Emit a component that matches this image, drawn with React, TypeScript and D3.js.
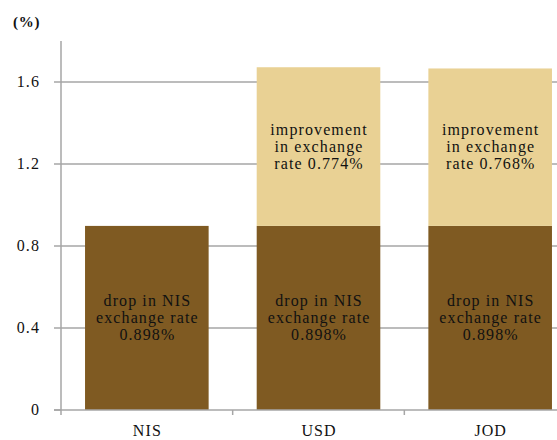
import React from "react";
import * as d3 from "d3";

const categories = ["NIS", "USD", "JOD"];
const dropValues = [0.898, 0.898, 0.898];
const improvementValues = [0, 0.774, 0.768];
const yTicks = [0, 0.4, 0.8, 1.2, 1.6];
const dropLabels = [
  ["drop in NIS", "exchange rate", "0.898%"],
  ["drop in NIS", "exchange rate", "0.898%"],
  ["drop in NIS", "exchange rate", "0.898%"],
];
const improvementLabels = [
  [],
  ["improvement", "in exchange", "rate 0.774%"],
  ["improvement", "in exchange", "rate 0.768%"],
];

const W = 557;
const H = 440;
const left = 61;
const plotRight = 576;
const y0 = 410;

export default function App() {
  const x = d3.scaleBand<string>().domain(categories).range([left, plotRight]).paddingInner(0.28).paddingOuter(0.14);
  const step = x.step();
  const y = d3.scaleLinear().domain([0, 1.8]).range([y0, 41]);
  const font = "'Liberation Serif', 'Times New Roman', serif";
  const gridColor = "#a6a6a6";
  const dark = "#7f5a22";
  const light = "#e9d194";
  const boundaries = categories.map((_, i) => left + step * i);
  const fs = 16;
  const ls = 1.1;
  return (
    <svg width={W} height={H} style={{ position: "absolute", left: 0, top: 0 }} fontFamily={font}>
      <rect width={W} height={H} fill="#fff" />
      {yTicks.filter((t) => t > 0).map((t) => (
        <line key={t} x1={left} x2={W} y1={y(t)} y2={y(t)} stroke={gridColor} strokeWidth={1.5} />
      ))}
      {categories.map((c, i) => {
        const bx = x(c)!;
        const bw = x.bandwidth();
        const d = dropValues[i];
        const im = improvementValues[i];
        const cx = bx + bw / 2;
        const dTop = y(d);
        const dMid = (dTop + y(0)) / 2;
        const iTop = y(d + im);
        const iMid = (iTop + dTop) / 2;
        return (
          <g key={c}>
            <rect x={bx} y={dTop} width={bw} height={y(0) - dTop} fill={dark} />
            {im > 0 && <rect x={bx} y={iTop} width={bw} height={dTop - iTop} fill={light} />}
            <text textAnchor="middle" fontSize={fs} letterSpacing={ls} fill="#111">
              {dropLabels[i].map((l, k) => (
                <tspan key={k} x={cx + ls / 2} y={dMid + (k - 1) * 17 + 5}>{l}</tspan>
              ))}
            </text>
            {im > 0 && (
              <text textAnchor="middle" fontSize={fs} letterSpacing={ls} fill="#111">
                {improvementLabels[i].map((l, k) => (
                  <tspan key={k} x={cx + ls / 2} y={iMid + (k - 1) * 17 + 5}>{l}</tspan>
                ))}
              </text>
            )}
            <text x={cx + ls / 2} y={436} textAnchor="middle" fontSize={fs} letterSpacing={ls} fill="#111">{c}</text>
          </g>
        );
      })}
      <line x1={left} x2={left} y1={41} y2={y0} stroke={gridColor} strokeWidth={1.5} />
      <line x1={54} x2={W} y1={y0} y2={y0} stroke={gridColor} strokeWidth={1.5} />
      {yTicks.map((t) => (
        <g key={t}>
          <line x1={54} x2={left} y1={y(t)} y2={y(t)} stroke={gridColor} strokeWidth={1.5} />
          <text x={40} y={y(t) + 5} textAnchor="end" fontSize={fs} letterSpacing={ls} fill="#111">
            {t === 0 ? "0" : d3.format(".1f")(t)}
          </text>
        </g>
      ))}
      {boundaries.map((b, i) => (
        <line key={i} x1={b} x2={b} y1={y0} y2={y0 + 5} stroke={gridColor} strokeWidth={1.5} />
      ))}
      <text x={13} y={27} fontSize={15} fontWeight="bold" letterSpacing={0.8} fill="#111">(%)</text>
    </svg>
  );
}
